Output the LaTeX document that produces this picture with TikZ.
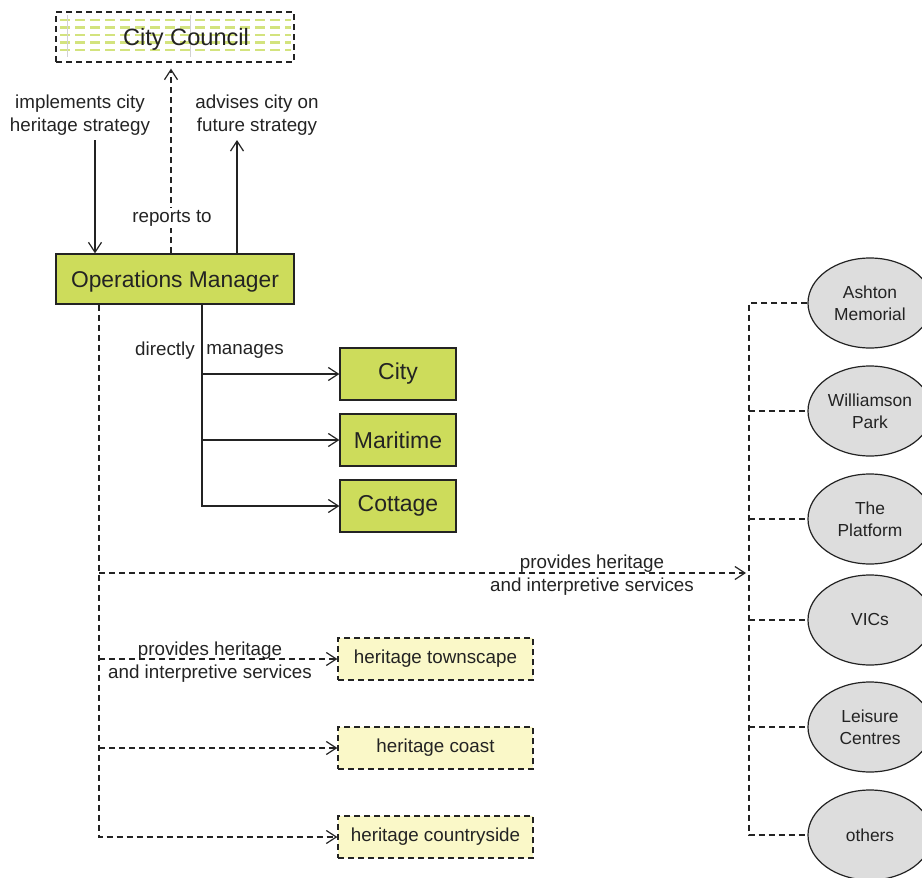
\documentclass[tikz,border=0pt]{standalone}
\usepackage{fontspec}
\setmainfont{Liberation Sans}
\usetikzlibrary{arrows.meta, calc, shapes.geometric}
\definecolor{lime}{HTML}{CDDC5B}
\definecolor{limedash}{HTML}{D3E37E}
\definecolor{paleyellow}{HTML}{FAF8C8}
\definecolor{pebble}{HTML}{DDDDDD}
\definecolor{ink}{HTML}{232323}

\begin{document}
\begin{tikzpicture}[
  x=0.5pt, y=-0.5pt,
  >={Straight Barb[length=5pt, width=6.5pt]},
  line width=0.6pt, color=ink,
  dashline/.style={dash pattern=on 3pt off 2pt},
  bigbox/.style={draw, fill=lime, minimum width=119pt, minimum height=25pt,
    inner sep=0pt, text height=8.5pt, text depth=0pt,
    font=\fontsize{11.4}{13}\selectfont},
  sitebox/.style={draw, fill=lime, minimum width=58pt, minimum height=26pt,
    inner sep=0pt, font=\fontsize{11.5}{13}\selectfont},
  areabox/.style={draw, dashline, fill=paleyellow, minimum width=97.5pt,
    minimum height=21pt, inner sep=0pt, font=\fontsize{9.4}{11}\selectfont},
  venue/.style={draw, ellipse, fill=pebble, minimum width=62pt, minimum height=45pt,
    inner sep=0pt, align=center, font=\fontsize{8.7}{11}\selectfont},
  note/.style={align=center, inner sep=1pt, font=\fontsize{9.4}{11.5}\selectfont}
]

\useasboundingbox (0,0) rectangle (922,878);

% ── City Council (hatched fill) ──
\foreach \y in {20,27.5,35,42.5,50} {
  \draw[limedash, line width=1.1pt, dash pattern=on 5pt off 2.5pt] (60,\y) -- (291,\y);
}
\draw[gray!35, line width=0.3pt] (67,15) -- (67,57);
\draw[gray!35, line width=0.3pt] (190,15) -- (190,57);
\node[bigbox, fill=none, dashline, font=\fontsize{11.8}{13}\selectfont]
  (council) at (175,37) {\hspace*{11pt}City Council};

% ── Operations Manager ──
\node[bigbox] (manager) at (175,279) {Operations Manager};

% ── Links to the council ──
\coordinate (implTop) at (95,140);
\coordinate (advTop) at (237,140);
\draw[->] (implTop) -- (implTop |- manager.north);
\draw[->] (advTop |- manager.north) -- (advTop);
\draw[->, dashline, shorten >=3pt] ([xshift=-2pt]manager.north) -- ([xshift=-2pt]council.south);

\node[note] (implLabel) at (80,115.5) {implements city\\heritage strategy};
\node[note] (advLabel) at (257,115.5) {advises city on\\future strategy};
\node[note, fill=white] (reportsLabel) at (172,218) {reports to};

% ── Directly managed sites ──
\node[sitebox] (city) at (398,374) {City};
\node[sitebox] (maritime) at (398,440) {Maritime};
\node[sitebox] (cottage) at (398,506) {Cottage};

\coordinate (trunk) at ([xshift=13.5pt]manager.south);
\draw[->] (trunk) |- (cottage);
\draw[->] (trunk |- city) -- (city);
\draw[->] (trunk |- maritime) -- (maritime);

\node[note] (directly) at (165,351) {directly};
\node[note] (manages) at (245,351) {manages};

% ── Heritage areas ──
\node[areabox] (townscape) at (435.5,659) {heritage townscape};
\node[areabox] (coast) at (435.5,748) {heritage coast};
\node[areabox] (countryside) at (435.5,837) {heritage countryside};

\coordinate (spine) at ([xshift=-38pt]manager.south);
\coordinate (bus) at (746,573);
\draw[->, dashline] (spine) |- (countryside);
\draw[->, dashline] (spine |- townscape) -- (townscape);
\draw[->, dashline] (spine |- coast) -- (coast);
\draw[->, dashline] (spine |- bus) -- (bus);

\node[note] (areaLabel) at (210,662) {provides heritage\\and interpretive services};
\node[note] (venueLabel) at (592,575) {provides heritage\\and interpretive services};

% ── Venues ──
\node[venue] (ashton) at (870,303) {Ashton\\Memorial};
\node[venue] (williamson) at (870,411) {Williamson\\Park};
\node[venue] (platform) at (870,519) {The\\Platform};
\node[venue] (vics) at (870,620) {VICs};
\node[venue] (leisure) at (870,727) {Leisure\\Centres};
\node[venue] (others) at (870,835) {others};

\coordinate (rail) at (749,0);
\draw[dashline] (ashton.west) -- (rail |- ashton) -- (rail |- others) -- (others.west);
\foreach \v in {williamson, platform, vics, leisure} {
  \draw[dashline] (rail |- \v) -- (\v.west);
}

\end{tikzpicture}
\end{document}
